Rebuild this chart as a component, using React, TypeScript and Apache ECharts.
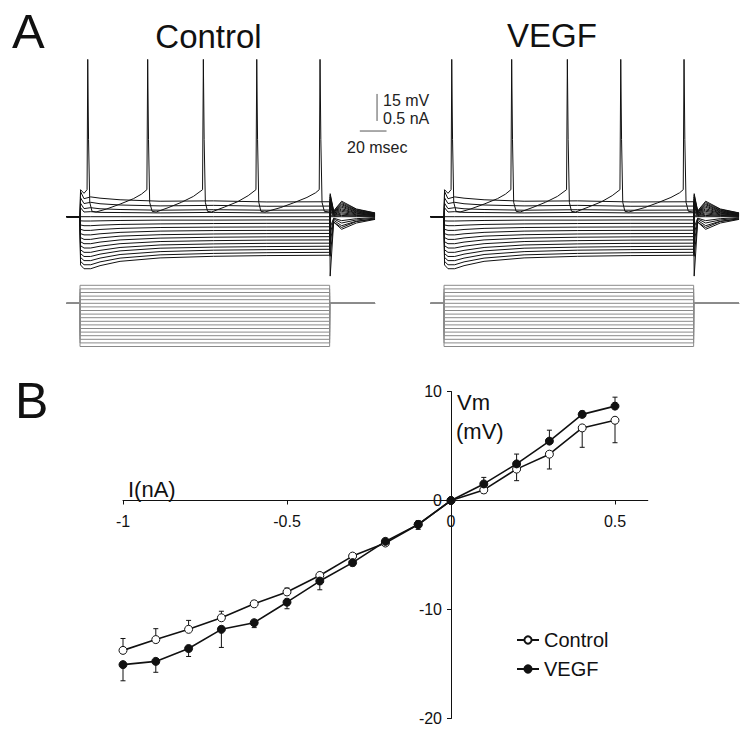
import React, { useEffect, useRef } from "react";
import * as echarts from "echarts";

const FONT = "'Liberation Sans', Arial, Helvetica, sans-serif";

// ---------- Panel B : I-V relation ----------
const currentNA = [-1, -0.9, -0.8, -0.7, -0.6, -0.5, -0.4, -0.3, -0.2, -0.1, 0, 0.1, 0.2, 0.3, 0.4, 0.5];
const controlVm = [-13.75, -12.76, -11.82, -10.76, -9.48, -8.39, -6.88, -5.1, -3.9, -2.2, 0, 0.97, 2.88, 4.25, 6.66, 7.36];
const vegfVm = [-15.06, -14.76, -13.58, -11.82, -11.21, -9.33, -7.39, -5.7, -3.75, -2.2, 0, 1.52, 3.36, 5.45, 7.9, 8.66];
const controlSem = [1.09, 1.0, 0.82, 0.6, 0.3, 0.36, 0.25, 0.2, 0.3, 0.35, 0, 0.3, 1.06, 1.36, 1.78, 2.06];
const vegfSem = [1.48, 1.0, 0.73, 1.66, 0.45, 0.6, 0.8, 0.3, 0.3, 0.45, 0, 0.6, 0.9, 1.0, 0.3, 0.82];
const ivXTicks = [-1, -0.5, 0, 0.5];
const ivXMin = -1;
const ivXMax = 0.6;
const ivYMin = -20;
const ivYMax = 10;

// ---------- Panel A : voltage traces (mV relative to rest) ----------
const traceTimesMs = [-10, 0, 0.4, 3, 8, 15, 30, 60, 100, 140, 187, 187.4, 190, 196, 207, 221];
const depolTracesMv = [
  [0, 0, 14, 10, 11, 10.3, 9.4, 8.6, 8.8, 8.2, 8.3, -22, -3, -7, -3.5, -1.5],
  [0, 0, 10.5, 7.3, 8, 7.2, 6.5, 6.0, 6.3, 5.8, 5.9, -15, -2, -5, -2.5, -1.2],
  [0, 0, 7.5, 4.5, 5, 4.4, 4.0, 3.6, 3.9, 3.6, 3.7, -10, -1.2, -3.5, -1.8, -0.8],
  [0, 0, 5, 2.6, 2.8, 2.4, 2.3, 2.1, 2.4, 2.1, 2.2, -6, -0.8, -2.2, -1.1, -0.5],
  [0, 0, 0, 0, 0, 0, 0, 0, 0, 0, 0, 0, 0, 0, 0, 0],
];
const hyperTracesMv = [
  [0, 0, -2.3, -2.4, -2.4, -2.3, -2.1, -1.9, -1.9, -1.8, -1.8, 1.1, 0.3, 0.7, 0.4, 0.2],
  [0, 0, -4.6, -5.0, -5.0, -4.7, -4.3, -4.0, -3.8, -3.7, -3.7, 2.2, 0.6, 1.5, 0.7, 0.4],
  [0, 0, -7.0, -7.6, -7.6, -7.1, -6.5, -6.0, -5.8, -5.7, -5.6, 3.4, 0.8, 2.2, 1.1, 0.6],
  [0, 0, -9.4, -10.1, -10.1, -9.5, -8.7, -8.0, -7.7, -7.6, -7.5, 4.5, 1.1, 3.0, 1.5, 0.8],
  [0, 0, -11.6, -12.6, -12.6, -11.8, -10.8, -10.0, -9.6, -9.4, -9.3, 5.6, 1.4, 3.7, 1.9, 0.9],
  [0, 0, -13.9, -15.0, -15.0, -14.1, -12.9, -11.9, -11.4, -11.2, -11.1, 6.7, 1.7, 4.4, 2.2, 1.1],
  [0, 0, -16.1, -17.4, -17.4, -16.4, -15.0, -13.8, -13.3, -13.0, -12.9, 7.7, 1.9, 5.2, 2.6, 1.3],
  [0, 0, -18.4, -19.8, -19.8, -18.7, -17.1, -15.7, -15.1, -14.8, -14.7, 8.8, 2.2, 5.9, 2.9, 1.5],
  [0, 0, -20.5, -22.1, -22.1, -20.8, -19.0, -17.5, -16.9, -16.6, -16.4, 9.8, 2.5, 6.6, 3.3, 1.6],
  [0, 0, -22.6, -24.4, -24.4, -23.0, -21.0, -19.4, -18.6, -18.3, -18.1, 10.9, 2.7, 7.2, 3.6, 1.8],
  [0, 0, -24.8, -26.7, -26.7, -25.1, -23.0, -21.2, -20.4, -20.0, -19.8, 11.9, 3.0, 7.9, 4.0, 2.0],
  [0, 0, -26.8, -28.9, -28.9, -27.2, -24.8, -22.9, -22.0, -21.6, -21.4, 12.8, 3.2, 8.6, 4.3, 2.1],
];
// spiking sweep: [time ms, mV]
const spikingTrace = [
  [-10, 0], [0, 0], [0.4, 15], [3, 13], [5.3, 15], [5.8, 87.4], [6.4, 43], [7.3, 8], [9, 3], [12, 2.6],
  [20, 4.3], [30, 7], [40, 10], [46, 12.5], [50.1, 15], [50.7, 87.4], [51.3, 43], [52.2, 8], [54, 3], [57, 2.6],
  [66, 5], [76, 8], [85, 11.3], [91.8, 15], [92.4, 87.4], [93, 43], [93.9, 8], [95.5, 3], [98.5, 2.6],
  [108, 5.3], [118, 8.3], [126, 11.7], [131.8, 15], [132.4, 87.4], [133, 43], [133.9, 8], [135.5, 3], [138.5, 2.6],
  [150, 5], [160, 7.7], [170, 10.7], [176.5, 13.3], [179.2, 15], [179.8, 87.4], [180.4, 43], [181.3, 8], [183, 3],
  [187, 2.6], [187.4, -33], [190, -3], [196, -6], [207, -2.7], [221, -1.3],
];
// injected current steps (nA)
const stepCurrentsNA = [0.5, 0.4, 0.3, 0.2, 0.1, 0, -0.1, -0.2, -0.3, -0.4, -0.5, -0.6, -0.7, -0.8, -0.9, -1.0, -1.1, -1.2];
const sweepStartMs = -10;
const stepOnMs = 0;
const stepOffMs = 187;
const sweepEndMs = 221;
// scale bar: 15 mV / 0.5 nA vertical, 20 ms horizontal
const scaleBarVertical = [[222.5, 53.2], [222.5, 68.2]];
const scaleBarHorizontal = [[209.6, 47.6], [229.6, 47.6]];

const PX_PER_MS = 1.335;
const PX_PER_MV = 1.8;
const PX_PER_NA = 36;
const REST_Y = 216.7;
const BASE_I_Y = 303.3;
const V_MIN = -35;
const V_MAX = 92;
const I_MIN = -1.2;
const I_MAX = 0.5;

// IV plot geometry
const IV_LEFT = 123;
const IV_TOP = 391.5;
const IV_W = 524.8;
const IV_H = 327;

export default function App() {
  const ref = useRef<HTMLDivElement>(null);

  useEffect(() => {
    if (!ref.current) return;
    const chart = echarts.init(ref.current, undefined, { renderer: "svg" });

    const panels = [
      { onsetX: 80, tMax: 235 },
      { onsetX: 444, tMax: 228 },
    ];

    const grids: any[] = [];
    const xAxes: any[] = [];
    const yAxes: any[] = [];
    const series: any[] = [];

    const hidden = { show: false };

    panels.forEach((p, pi) => {
      const left = p.onsetX + sweepStartMs * PX_PER_MS;
      const width = (p.tMax - sweepStartMs) * PX_PER_MS;
      grids.push({
        left, width,
        top: REST_Y - V_MAX * PX_PER_MV,
        height: (V_MAX - V_MIN) * PX_PER_MV,
        outerBoundsMode: "none",
      });
      grids.push({
        left, width,
        top: BASE_I_Y - I_MAX * PX_PER_NA,
        height: (I_MAX - I_MIN) * PX_PER_NA,
        outerBoundsMode: "none",
      });
      const vIdx = pi * 2;
      const iIdx = pi * 2 + 1;
      xAxes.push({ gridIndex: vIdx, type: "value", min: sweepStartMs, max: p.tMax, ...hidden });
      xAxes.push({ gridIndex: iIdx, type: "value", min: sweepStartMs, max: p.tMax, ...hidden });
      yAxes.push({ gridIndex: vIdx, type: "value", min: V_MIN, max: V_MAX, ...hidden });
      yAxes.push({ gridIndex: iIdx, type: "value", min: I_MIN, max: I_MAX, ...hidden });

      const traceStyle = {
        type: "line",
        xAxisIndex: vIdx,
        yAxisIndex: vIdx,
        symbol: "none",
        silent: true,
        lineStyle: { color: "#111", width: 1 },
        clip: false,
      };
      [...depolTracesMv, ...hyperTracesMv].forEach((vals) => {
        series.push({ ...traceStyle, data: traceTimesMs.map((t, i) => [t, vals[i]]) });
      });
      series.push({ ...traceStyle, data: spikingTrace });

      stepCurrentsNA.forEach((lvl) => {
        series.push({
          type: "line",
          xAxisIndex: iIdx,
          yAxisIndex: iIdx,
          symbol: "none",
          silent: true,
          clip: false,
          lineStyle: { color: "#8a8a8a", width: 1 },
          data: [
            [sweepStartMs, 0], [stepOnMs, 0], [stepOnMs, lvl],
            [stepOffMs, lvl], [stepOffMs, 0], [sweepEndMs, 0],
          ],
        });
      });

      if (pi === 0) {
        [scaleBarVertical, scaleBarHorizontal].forEach((d) => {
          series.push({
            type: "line",
            xAxisIndex: vIdx,
            yAxisIndex: vIdx,
            symbol: "none",
            silent: true,
            clip: false,
            lineStyle: { color: "#555", width: 1 },
            data: d,
          });
        });
      }
    });

    // IV grid; axes cross at the origin (moved there with an offset)
    const ivIdx = 4;
    grids.push({ left: IV_LEFT, top: IV_TOP, width: IV_W, height: IV_H, outerBoundsMode: "none" });
    const zeroYOffset = -(IV_H * (0 - ivYMin)) / (ivYMax - ivYMin);
    const zeroXOffset = -(IV_W * (0 - ivXMin)) / (ivXMax - ivXMin);
    const axisFont = { fontSize: 16, color: "#111", fontFamily: FONT };
    xAxes.push({
      gridIndex: ivIdx,
      type: "value",
      position: "bottom",
      offset: zeroYOffset,
      min: ivXMin,
      max: ivXMax,
      axisLine: { show: true, onZero: false, lineStyle: { color: "#111", width: 1 } },
      axisTick: { show: true, customValues: ivXTicks, length: 4, lineStyle: { color: "#111" } },
      axisLabel: { ...axisFont, customValues: ivXTicks, margin: 13 },
      splitLine: { show: false },
    });
    yAxes.push({
      gridIndex: ivIdx,
      type: "value",
      position: "left",
      offset: zeroXOffset,
      min: ivYMin,
      max: ivYMax,
      interval: 10,
      axisLine: { show: true, onZero: false, lineStyle: { color: "#111", width: 1 } },
      axisTick: { show: true, length: 4, lineStyle: { color: "#111" } },
      axisLabel: { ...axisFont, margin: 9 },
      splitLine: { show: false },
    });

    const errSeries = (name: string, vals: number[], sem: number[], upOnNeg: boolean) => ({
      type: "custom",
      name: name + " SEM",
      xAxisIndex: ivIdx,
      yAxisIndex: ivIdx,
      silent: true,
      z: 2,
      encode: { x: 0, y: 1 },
      data: currentNA.map((x, i) => [x, vals[i], sem[i], (x < 0) === upOnNeg ? 1 : -1]),
      renderItem: (_params: any, api: any) => {
        const x = api.value(0);
        const y = api.value(1);
        const e = api.value(2);
        const dir = api.value(3);
        const p0 = api.coord([x, y]);
        const p1 = api.coord([x, y + dir * e]);
        const st = { stroke: "#111", lineWidth: 1 };
        return {
          type: "group",
          children: [
            { type: "line", shape: { x1: p0[0], y1: p0[1], x2: p1[0], y2: p1[1] }, style: st },
            { type: "line", shape: { x1: p1[0] - 2.5, y1: p1[1], x2: p1[0] + 2.5, y2: p1[1] }, style: st },
          ],
        };
      },
    });

    series.push(errSeries("Control", controlVm, controlSem, true));
    series.push(errSeries("VEGF", vegfVm, vegfSem, false));
    series.push({
      type: "line",
      name: "Control",
      xAxisIndex: ivIdx,
      yAxisIndex: ivIdx,
      z: 4,
      symbol: "circle",
      symbolSize: 8,
      data: currentNA.map((x, i) => [x, controlVm[i]]),
      lineStyle: { color: "#111", width: 1.6 },
      itemStyle: { color: "#fff", borderColor: "#111", borderWidth: 1 },
    });
    series.push({
      type: "line",
      name: "VEGF",
      xAxisIndex: ivIdx,
      yAxisIndex: ivIdx,
      z: 4,
      symbol: "circle",
      symbolSize: 8,
      data: currentNA.map((x, i) => [x, vegfVm[i]]),
      lineStyle: { color: "#111", width: 1.6 },
      itemStyle: { color: "#111", borderColor: "#111", borderWidth: 1 },
    });

    const txt = (text: string, x: number, y: number, size: number, align = "left", color = "#111") => ({
      type: "text",
      x,
      y,
      silent: true,
      style: {
        text,
        font: `${size}px ${FONT}`,
        fill: color,
        textAlign: align,
        textVerticalAlign: "middle",
      },
    });

    chart.setOption({
      animation: false,
      backgroundColor: "#fff",
      grid: grids,
      xAxis: xAxes,
      yAxis: yAxes,
      series,
      legend: {
        data: ["Control", "VEGF"],
        orient: "vertical",
        left: 511,
        top: 625,
        itemWidth: 22,
        itemHeight: 9,
        itemGap: 9,
        textStyle: { fontSize: 20, color: "#111", fontFamily: FONT },
      },
      graphic: [
        txt("A", 12, 31, 49),
        txt("Control", 208.5, 36, 33, "center"),
        txt("VEGF", 552, 35, 33, "center"),
        txt("15 mV", 383, 100, 16, "left", "#222"),
        txt("0.5 nA", 383, 118, 16, "left", "#222"),
        txt("20 msec", 347, 147, 16, "left", "#222"),
        txt("B", 15, 401, 50),
        txt("I(nA)", 128, 489, 22),
        txt("Vm", 457, 402, 22),
        txt("(mV)", 456, 431, 22),
      ],
    });

    return () => chart.dispose();
  }, []);

  return (
    <div
      ref={ref}
      style={{ position: "absolute", left: 0, top: 0, width: 750, height: 730, background: "#fff" }}
    />
  );
}
